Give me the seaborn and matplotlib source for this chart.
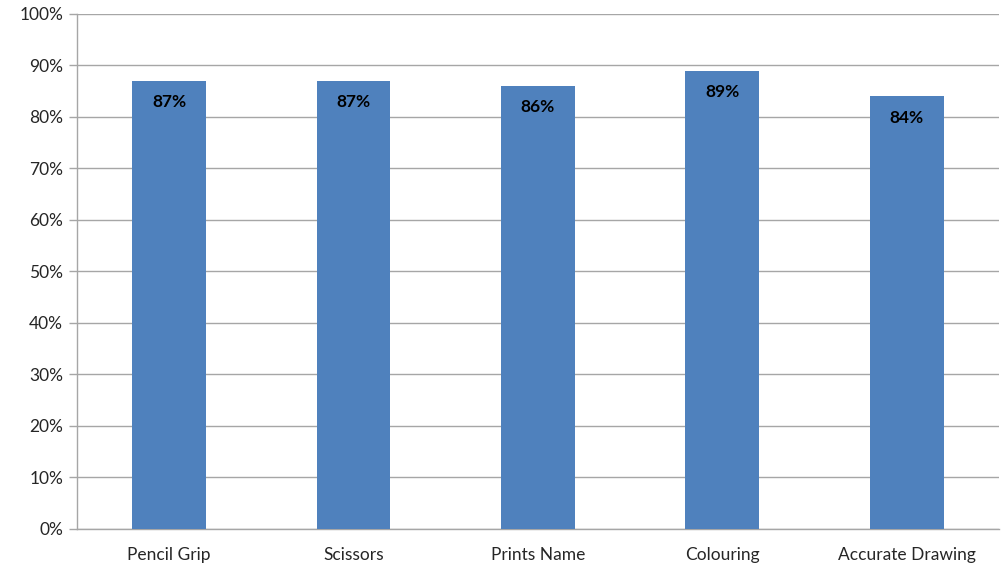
import matplotlib
matplotlib.use("Agg")
import matplotlib.pyplot as plt
import seaborn as sns
import pandas as pd
from matplotlib.ticker import PercentFormatter, MultipleLocator

categories = ["Pencil Grip", "Scissors", "Prints Name", "Colouring", "Accurate Drawing"]
values = [87, 87, 86, 89, 84]
labels = ["87%", "87%", "86%", "89%", "84%"]

sns.set_style("white")
plt.rcParams['font.family'] = ['Lato', 'DejaVu Sans']

df = pd.DataFrame({"cat": categories, "val": values})
fig = plt.figure(figsize=(10.06, 5.69), dpi=100)
ax = fig.add_axes([0.0765, 0.0703, 0.9165, 0.9051])
sns.barplot(data=df, x="cat", y="val", color="#4F81BD", saturation=1, width=0.4, ax=ax,
            zorder=3, linewidth=0, edgecolor="none")

ax.set_ylim(0, 100)
ax.set_xlim(-0.5, len(categories) - 0.5)
ax.yaxis.set_major_locator(MultipleLocator(10))
ax.yaxis.set_major_formatter(PercentFormatter(decimals=0))
ax.grid(axis="y", color="#a6a6a6", linewidth=1, zorder=0)
ax.set_axisbelow(True)
ax.set_xlabel("")
ax.set_ylabel("")
for s in ["top", "right"]:
    ax.spines[s].set_visible(False)
for s in ["left", "bottom"]:
    ax.spines[s].set_color("#a6a6a6")
    ax.spines[s].set_linewidth(1)

ax.set_xticks([i - 0.5 for i in range(len(categories) + 1)], minor=True)
ax.tick_params(axis="x", which="major", length=0, pad=13, labelsize=12.5)
ax.tick_params(axis="x", which="minor", length=6, color="#a6a6a6", width=1, direction="out")
ax.tick_params(axis="y", length=6, color="#a6a6a6", width=1, labelsize=12.5, pad=4, left=True)

for i, (v, t) in enumerate(zip(values, labels)):
    ax.text(i, v - 2.6, t, ha="center", va="top", fontsize=12.5, fontweight="bold", color="black", zorder=4)

fig.savefig("out.png", dpi=100)
